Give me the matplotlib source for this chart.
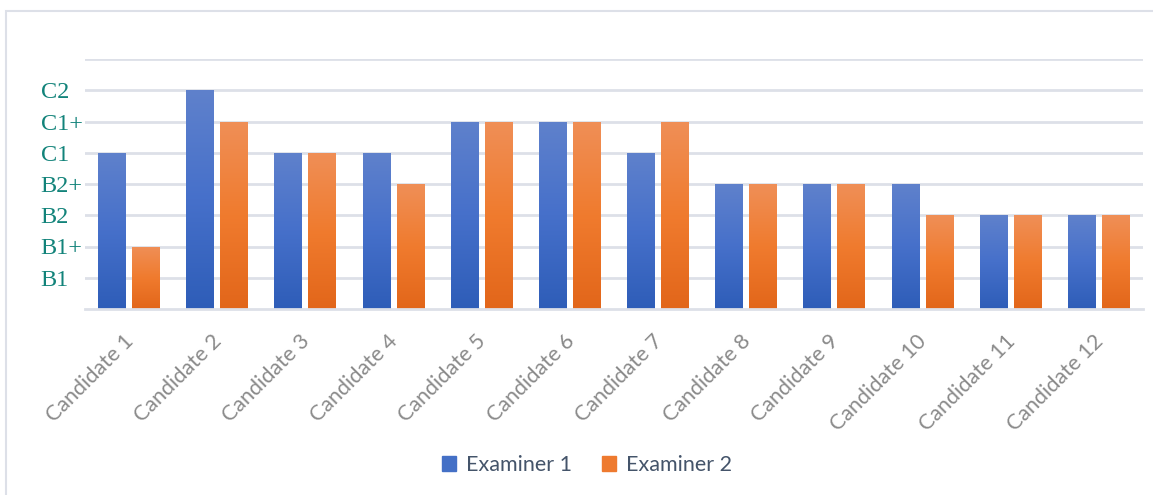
import matplotlib
matplotlib.use("Agg")
import matplotlib.pyplot as plt
import matplotlib.transforms as mtransforms
from matplotlib.colors import LinearSegmentedColormap
from matplotlib.patches import Rectangle
import numpy as np

plt.rcParams['font.family'] = ['Lato', 'DejaVu Sans']

candidates = ['Candidate %d' % i for i in range(1, 13)]
levels = ['B1', 'B1+', 'B2', 'B2+', 'C1', 'C1+', 'C2']
# grades as index into levels (B1 = 1 ... C2 = 7)
examiner1 = [5, 7, 5, 5, 6, 6, 5, 4, 4, 4, 3, 3]
examiner2 = [2, 6, 5, 4, 6, 6, 6, 4, 4, 3, 3, 3]

blue_cmap = LinearSegmentedColormap.from_list('blu', ['#2E5DB8', '#4670CA', '#5F81CC'])
orange_cmap = LinearSegmentedColormap.from_list('org', ['#E2661A', '#F07B2E', '#EF8F57'])
grid_col = '#DDE0E8'

fig = plt.figure(figsize=(11.53, 4.95), dpi=100)
ax = fig.add_axes([85 / 1153, 1 - 309 / 495, (1143 - 85) / 1153, (309 - 59) / 495])

# light frame around the chart area
fig.patches.append(Rectangle((6 / 1153, -0.1), 1.2, 1.1 - 10.5 / 495,
                             transform=fig.transFigure, fill=False,
                             edgecolor=grid_col, linewidth=1.5))

x = np.arange(len(candidates))
w = 0.317
off = 0.193
b1 = ax.bar(x - off, examiner1, w, color='#4472C4', label='Examiner 1', zorder=2)
b2 = ax.bar(x + off, examiner2, w, color='#ED7D31', label='Examiner 2', zorder=2)

# vertical gradient fill inside each bar
grad = np.linspace(0, 1, 256).reshape(-1, 1)
for bars, cmap in ((b1, blue_cmap), (b2, orange_cmap)):
    for bar in bars:
        bx, by = bar.get_x(), bar.get_y()
        bw, bh = bar.get_width(), bar.get_height()
        bar.set_facecolor('none')
        im = ax.imshow(grad, cmap=cmap, origin='lower', aspect='auto',
                       extent=(bx, bx + bw, by, by + bh), zorder=2)
        im.set_clip_path(bar)
ax.set_xlim(-0.5, len(candidates) - 0.5)
ax.set_ylim(0, 8)

ax.set_yticks(range(1, 8), levels)
ax.yaxis.grid(True, color=grid_col, linewidth=2)
ax.axhline(8, color=grid_col, linewidth=2, zorder=0)
ax.set_axisbelow(True)
ax.tick_params(axis='y', length=0, pad=32)
for t in ax.get_yticklabels():
    t.set_fontfamily(['Liberation Serif', 'DejaVu Serif'])
    t.set_fontsize(17.5)
    t.set_color('#12837A')
    t.set_horizontalalignment('left')

ax.set_xticks(x)
ax.set_xticklabels(candidates, rotation=45, ha='right', va='top',
                   rotation_mode='anchor', fontsize=15.5, color='#8A8A8A')
ax.tick_params(axis='x', length=0, pad=16)
shift = mtransforms.ScaledTranslation(-6 / 100, 0, fig.dpi_scale_trans)
for t in ax.get_xticklabels():
    t.set_transform(t.get_transform() + shift)

for s in ('top', 'right', 'left'):
    ax.spines[s].set_visible(False)
ax.spines['bottom'].set_color(grid_col)
ax.spines['bottom'].set_linewidth(2)

leg = fig.legend(handles=[Rectangle((0, 0), 1, 1, color='#4470C6'),
                          Rectangle((0, 0), 1, 1, color='#EE7A2F')],
                 labels=['Examiner 1', 'Examiner 2'],
                 loc='center', bbox_to_anchor=(587 / 1153, 1 - 465 / 495),
                 ncol=2, frameon=False, fontsize=15.5, handlelength=0.65,
                 handleheight=0.65, handletextpad=0.45, columnspacing=1.4)
for t in leg.get_texts():
    t.set_color('#44546A')

fig.savefig('out.png', dpi=100)
